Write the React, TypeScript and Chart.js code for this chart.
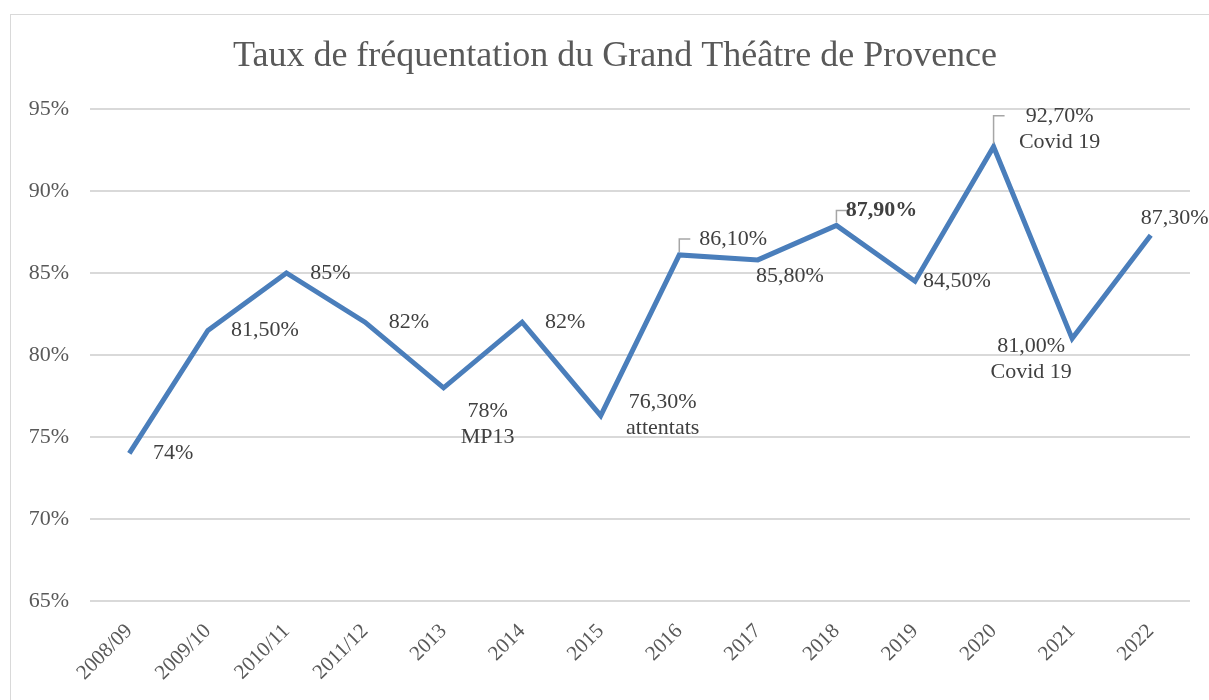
import React, { useEffect, useRef } from "react";
import { Chart, registerables } from "chart.js";

Chart.register(...registerables);

const title = "Taux de fréquentation du Grand Théâtre de Provence";
const categories = ["2008/09", "2009/10", "2010/11", "2011/12", "2013", "2014", "2015", "2016", "2017", "2018", "2019", "2020", "2021", "2022"];
const rates = [74, 81.5, 85, 82, 78, 82, 76.3, 86.1, 85.8, 87.9, 84.5, 92.7, 81, 87.3];
const valueLabels = ["74%", "81,50%", "85%", "82%", "78%", "82%", "76,30%", "86,10%", "85,80%", "87,90%", "84,50%", "92,70%", "81,00%", "87,30%"];
const notes = ["", "", "", "", "MP13", "", "attentats", "", "", "", "", "Covid 19", "Covid 19", ""];
const boldLabels = [false, false, false, false, false, false, false, false, false, true, false, false, false, false];
const yMin = 65;
const yMax = 95;
const yStep = 5;

// label placement offsets (pixels) and callout flags – styling only
const labelDx = [44, 57, 44, 44, 44, 43, 62, 54, 32, 45, 42, 66, -41, 24];
const labelDy = [0, 0, 0, 0, 23, 0, -13, -16, 16, -15, 0, -31, 8, -17];
const callout = [false, false, false, false, false, false, false, true, false, true, false, true, false, false];

const FONT = "'Liberation Serif', 'Times New Roman', serif";

const labelPlugin = {
  id: "customLabels",
  beforeDraw(chart: any) {
    const ctx = chart.ctx;
    ctx.save();
    ctx.fillStyle = "#ffffff";
    ctx.fillRect(0, 0, chart.width, chart.height);
    ctx.strokeStyle = "#d9d9d9";
    ctx.lineWidth = 1;
    ctx.strokeRect(10.5, 14.5, chart.width + 20, chart.height + 20);
    ctx.fillStyle = "#595959";
    ctx.font = `36px ${FONT}`;
    ctx.textAlign = "center";
    ctx.textBaseline = "middle";
    ctx.fillText(title, 615, 57);
    ctx.restore();
  },
  afterDatasetsDraw(chart: any) {
    const ctx = chart.ctx;
    const meta = chart.getDatasetMeta(0);
    ctx.save();
    meta.data.forEach((pt: any, i: number) => {
      const x = pt.x;
      const y = pt.y;
      const tx = x + labelDx[i];
      const ty = y + labelDy[i];
      if (callout[i]) {
        ctx.strokeStyle = "#a6a6a6";
        ctx.lineWidth = 1.5;
        ctx.beginPath();
        ctx.moveTo(x, y - 3);
        ctx.lineTo(x, ty);
        ctx.lineTo(x + 11, ty);
        ctx.stroke();
      }
      ctx.fillStyle = "#404040";
      ctx.textAlign = "center";
      ctx.textBaseline = "middle";
      ctx.font = `${boldLabels[i] ? "bold " : ""}22px ${FONT}`;
      ctx.fillText(valueLabels[i], tx, ty);
      if (notes[i]) {
        ctx.font = `22px ${FONT}`;
        ctx.fillText(notes[i], tx, ty + 26);
      }
    });
    ctx.restore();
  },
};

export default function App() {
  const ref = useRef<HTMLCanvasElement | null>(null);
  useEffect(() => {
    document.body.style.margin = "0";
    if (!ref.current) return;
    const chart = new Chart(ref.current, {
      type: "line",
      data: {
        labels: categories,
        datasets: [
          {
            data: rates,
            borderColor: "#4a7ebb",
            borderWidth: 5,
            pointRadius: 0,
            tension: 0,
            fill: false,
            borderJoinStyle: "miter",
          } as any,
        ],
      },
      options: {
        responsive: false,
        animation: false,
        layout: { padding: { left: 20, right: 19, top: 109, bottom: 0 } },
        plugins: { legend: { display: false }, tooltip: { enabled: false }, title: { display: false } },
        scales: {
          x: {
            offset: true,
            grid: { display: false },
            border: { display: false },
            ticks: {
              color: "#595959",
              font: { family: FONT, size: 21 },
              minRotation: 45,
              maxRotation: 45,
              padding: 10,
              autoSkip: false,
            },
            afterFit(scale: any) {
              scale.height = 99;
            },
          },
          y: {
            min: yMin,
            max: yMax,
            border: { display: false },
            grid: { color: "#d9d9d9", lineWidth: 2, drawTicks: false },
            ticks: {
              stepSize: yStep,
              color: "#595959",
              font: { family: FONT, size: 22 },
              padding: 21,
              callback: (v: any) => `${v}%`,
            },
            afterFit(scale: any) {
              scale.width = 70;
            },
          },
        },
      },
      plugins: [labelPlugin],
    });
    return () => chart.destroy();
  }, []);
  return (
    <div style={{ width: 1209, height: 700 }}>
      <canvas ref={ref} width={1209} height={700} />
    </div>
  );
}
